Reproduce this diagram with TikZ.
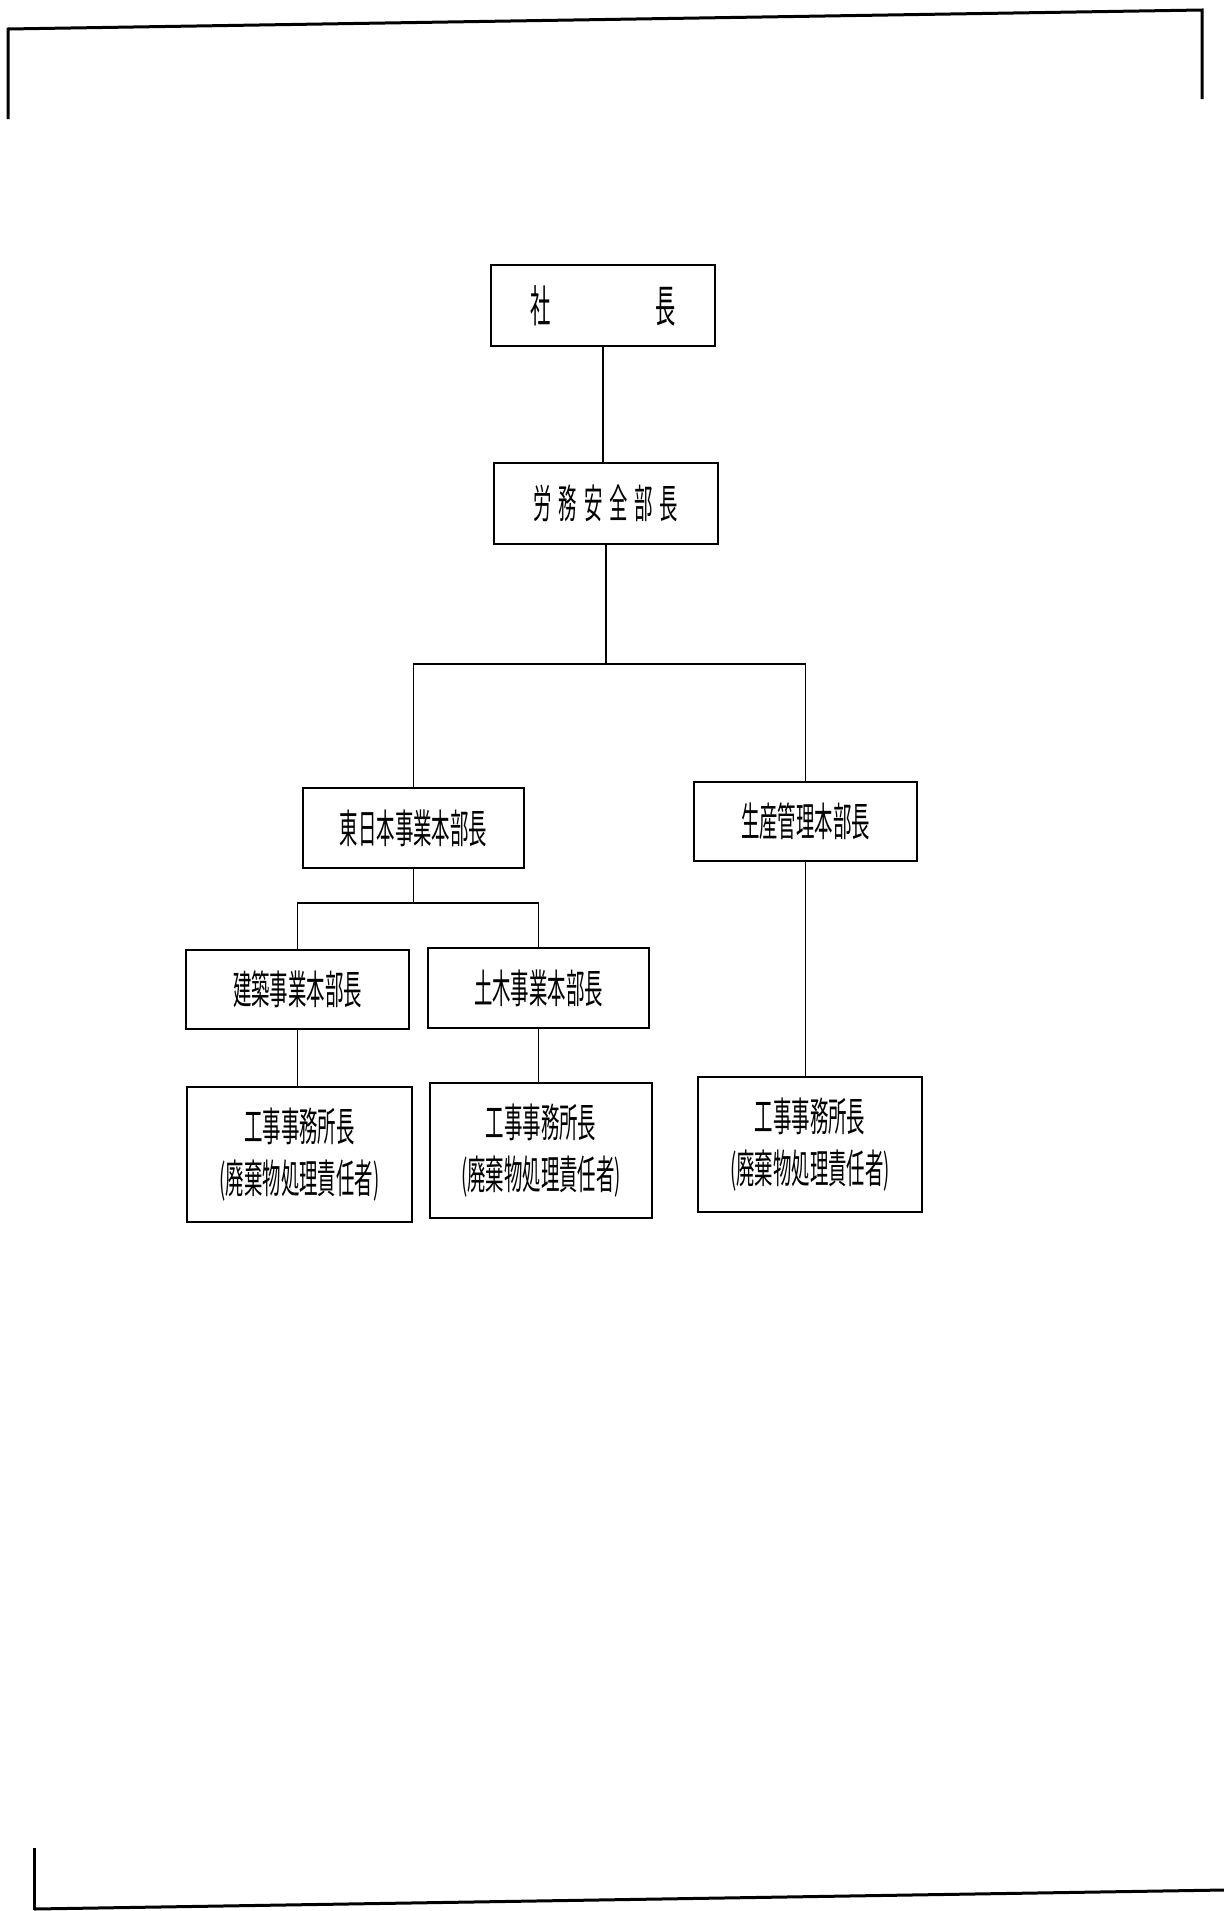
\documentclass[tikz,border=0pt]{standalone}
\usepackage{fontspec}
\newfontfamily\jpf[FakeStretch=0.46]{Noto Sans CJK JP}
\begin{document}
\begin{tikzpicture}[x=0.5pt,y=-0.5pt,
  box/.style={draw, line width=1pt, inner sep=0pt, align=center,
    font=\jpf\fontsize{20pt}{26pt}\selectfont},
  conn/.style={line width=0.75pt},
  frameline/.style={line width=1.5pt}]
\fill[white] (0,0) rectangle (1224,1911);
\useasboundingbox (0,0) rectangle (1224,1911);
% scanned page frame
\draw[frameline] (8,119) -- (8,29) -- (1202,10) -- (1202,99);
\draw[frameline] (34,1848) -- (34,1910) ;
\draw[frameline] (34,1909) -- (1224,1890);
% boxes
\node[box, minimum width=112pt, minimum height=40.5pt, font=\jpf\fontsize{22pt}{26pt}\selectfont] (shacho) at (603,305.5) {社\hspace{52.5pt}長};
\node[box, minimum width=112pt, minimum height=40.5pt] (romu) at (606,503.5) {労\kern3.4pt 務\kern3.4pt 安\kern3.4pt 全\kern3.4pt 部\kern3.4pt 長};
\node[box, minimum width=110.5pt, minimum height=40pt] (higashi) at (413.5,828) {東日本事業本部長};
\node[box, minimum width=111.5pt, minimum height=39.5pt] (seisan) at (805.5,821.5) {生産管理本部長};
\node[box, minimum width=111.5pt, minimum height=39.5pt] (kenchiku) at (297.5,989.5) {建築事業本部長};
\node[box, minimum width=110.5pt, minimum height=40pt] (doboku) at (538.5,988) {土木事業本部長};
\node[box, minimum width=112.5pt, minimum height=67.5pt] (kojiA) at (299.5,1154.5) {工事事務所長\\(廃棄物処理責任者)};
\node[box, minimum width=111pt, minimum height=67.5pt] (kojiB) at (541,1150.5) {工事事務所長\\(廃棄物処理責任者)};
\node[box, minimum width=112pt, minimum height=67.5pt] (kojiC) at (810,1144.5) {工事事務所長\\(廃棄物処理責任者)};
% connectors
\coordinate (bus1) at (607,664);
\coordinate (bus2) at (416,903);
\draw[conn] (shacho.south) -- (shacho.south |- romu.north);
\draw[conn] (romu.south) -- (romu.south |- bus1) -| (higashi.north);
\draw[conn] (romu.south |- bus1) -| (seisan.north);
\draw[conn] (higashi.south) -- (higashi.south |- bus2) -| (kenchiku.north);
\draw[conn] (higashi.south |- bus2) -| (doboku.north);
\draw[conn] (kenchiku.south) -- (kenchiku.south |- kojiA.north);
\draw[conn] (doboku.south) -- (doboku.south |- kojiB.north);
\draw[conn] (seisan.south) -- (seisan.south |- kojiC.north);
\end{tikzpicture}
\end{document}
